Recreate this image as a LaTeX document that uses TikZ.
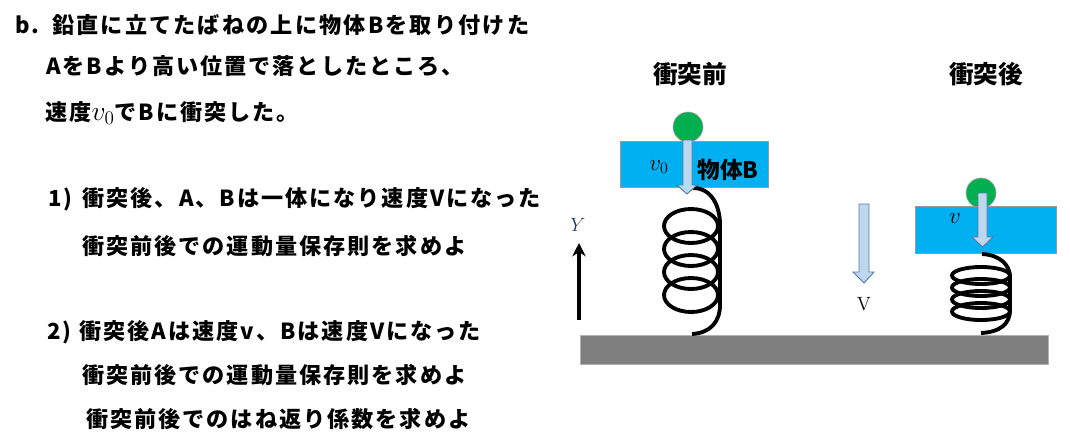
\documentclass[tikz,border=0pt]{standalone}
\usepackage{fontspec}
\usepackage{amsmath}
\usetikzlibrary{positioning}
\usetikzlibrary{arrows.meta}
\newfontfamily\cjk[LetterSpace=9]{Noto Sans CJK JP}
\newfontfamily\cjklabel{Noto Sans CJK JP}
\definecolor{blockblue}{HTML}{00B0F0}
\definecolor{ballgreen}{HTML}{00B050}
\definecolor{arrowfill}{HTML}{BDD7EE}
\definecolor{arrowline}{HTML}{5A7A9E}
\definecolor{groundgray}{HTML}{7F7F7F}
\definecolor{axisblue}{HTML}{1F3864}
\tikzset{
	textline/.style={right, inner sep=0pt, font=\cjk\bfseries\fontsize{16.6}{20}\selectfont},
	heading/.style={inner sep=0pt, font=\cjklabel\bfseries\fontsize{18.5}{22}\selectfont},
	mathlabel/.style={inner sep=0pt, font=\fontsize{17.28}{20}\selectfont},
	block/.style={draw=gray!80, line width=0.6pt, fill=blockblue},
	ball/.style={circle, draw=gray!70, line width=0.5pt, fill=ballgreen, minimum size=22.5pt, inner sep=0pt},
	springline/.style={line width=2.9pt, black, line join=round},
	blockarrow/.style={draw=arrowline, line width=0.7pt, fill=arrowfill, line join=miter}
}
% x shaft left, shaft right, head left, head right, centre, top, head start, tip
\newcommand{\blockarrow}[8]{%
	\draw [blockarrow] (#1,#6) -- (#2,#6) -- (#2,#7) -- (#4,#7) -- (#5,#8) -- (#3,#7) -- (#1,#7) -- cycle;}
% centre x, half width, half height, y of the first ring centre, pitch
\newcommand{\springcoil}[5]{%
	\foreach \ringno in {0,1,2,3}
		\draw [springline] (#1,{#4+\ringno*#5}) ellipse [x radius=#2, y radius=#3];}
\begin{document}
\begin{tikzpicture}[x=0.75pt, y=-0.75pt]
	\useasboundingbox (0,0) rectangle (1070,440);
	% problem text
	\node [textline] (line1) at (15,25) {\addfontfeature{LetterSpace=9.8}b.\hspace{9.5pt}鉛直に立てたばねの上に物体Bを取り付けた};
	\node [textline] (line2) at (46,66) {AをBより高い位置で落としたところ、};
	\node [textline] (line3) at (45,113) {速度{\fontsize{20.74}{20}\selectfont$v_0$}でBに衝突した。};
	\node [textline] (q1a) at (48,199) {1)\hspace{7.5pt}衝突後、A、Bは一体になり速度Vになった};
	\node [textline] (q1b) at (82,246) {衝突前後での運動量保存則を求めよ};
	\node [textline] (q2a) at (47,332) {2)\hspace{6pt}衝突後Aは速度v、Bは速度Vになった};
	\node [textline] (q2b) at (82,375) {衝突前後での運動量保存則を求めよ};
	\node [textline] (q2c) at (86,419) {衝突前後でのはね返り係数を求めよ};
	% headings
	\node [heading] (before) at (690,74) {衝突前};
	\node [heading] (after) at (986,74) {衝突後};
	% ground
	\draw [draw=gray!60, line width=0.5pt, fill=groundgray] (580,335) rectangle (1048,364);
	% before the collision
	\node [ball] (ballA) at (688,127) {};
	\draw [block] (620,141) rectangle (768,187);
	\springcoil{691}{27}{17}{226}{23}
	\draw [springline] (693,188) .. controls (711,188) and (720,205) .. (720,225) -- (720,305) .. controls (720,322) and (710,333) .. (692,334);
	\blockarrow{683}{692}{677}{697}{687}{140}{185}{194}
	\node [mathlabel] (vzero) at (659,167) {$v_0$};
	\node [heading, font=\cjklabel\bfseries\fontsize{17}{20}\selectfont] (bodyB) at (728,170) {物体B};
	% after the collision
	\node [ball] (ballB) at (981,193) {};
	\draw [block] (915,206) rectangle (1056,253);
	\springcoil{981}{29}{8.5}{275.5}{12}
	\draw [springline] (982,254) .. controls (1000,255) and (1010,265) .. (1010,277) -- (1010,310) .. controls (1010,324) and (1000,332) .. (981,333);
	\blockarrow{978}{987}{972}{993}{982.5}{193}{237}{247}
	\node [mathlabel] (vsmall) at (955,219) {$v$};
	% velocity after the collision
	\blockarrow{859}{869}{853}{874}{864}{204}{272}{283}
	\node [inner sep=0pt, font=\fontsize{14.4}{18}\selectfont] (vbig) at (864,304) {V};
	% axis
	\coordinate (axisfoot) at (579,320);
	\coordinate (axishead) at (579,243);
	\draw [-{Stealth[length=10pt,width=10pt]}, line width=2.6pt] (axisfoot) -- (axishead);
	\node [inner sep=0pt, text=axisblue, font=\fontsize{14.4}{18}\selectfont] (axisY) at (578,225) {$Y$};
\end{tikzpicture}
\end{document}
